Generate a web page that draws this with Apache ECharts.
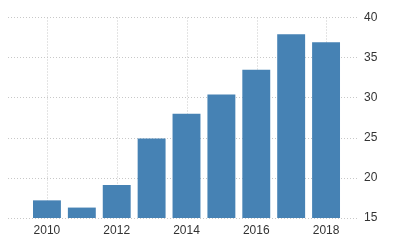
<!DOCTYPE html>
<html><head><meta charset="utf-8">
<script src="https://cdn.jsdelivr.net/npm/echarts@6/dist/echarts.min.js"></script>
<style>html,body{margin:0;padding:0;background:#fff}#c{width:400px;height:250px}</style>
</head><body><div id="c"></div>
<script>
var years = ['2010','2011','2012','2013','2014','2015','2016','2017','2018'];
var values = [17.2, 16.3, 19.1, 24.9, 28.0, 30.4, 33.5, 37.9, 36.9];
var yTicks = [15, 20, 25, 30, 35, 40];

var chart = echarts.init(document.getElementById('c'), null, {renderer:'canvas'});
var dotted = {color:'#c8c8c8', type:[1,2], width:1};
chart.setOption({
  animation:false,
  backgroundColor:'#ffffff',
  grid:[
    {left:8, right:42, top:17.5, bottom:32, containLabel:false},
    {left:29.5, width:314, top:17.5, bottom:32, containLabel:false},
    {left:47.5, width:279.2, top:17.5, bottom:32, containLabel:false}
  ],
  xAxis:[
    {gridIndex:0, type:'value', min:0, max:1, show:false, splitLine:{show:false}},
    {gridIndex:1, type:'category', data:years,
     axisLine:{show:false}, axisTick:{show:false}, splitLine:{show:false},
     axisLabel:{interval:1, color:'#333', fontSize:12, fontFamily:'Arial, Liberation Sans', margin:7}},
    {gridIndex:2, type:'value', min:2010, max:2018, interval:2,
     axisLine:{show:false}, axisTick:{show:false}, axisLabel:{show:false},
     splitLine:{show:true, lineStyle:dotted}}
  ],
  yAxis:[
    {gridIndex:0, type:'value', position:'right', min:yTicks[0], max:yTicks[yTicks.length-1], interval:5,
     axisLine:{show:false}, axisTick:{show:false},
     axisLabel:{color:'#333', fontSize:12, fontFamily:'Arial, Liberation Sans', margin:6},
     splitLine:{show:true, lineStyle:dotted}},
    {gridIndex:1, type:'value', min:yTicks[0], max:yTicks[yTicks.length-1], show:false, splitLine:{show:false}},
    {gridIndex:2, type:'value', min:0, max:1, show:false, splitLine:{show:false}}
  ],
  series:[{
    type:'bar', xAxisIndex:1, yAxisIndex:1, data:values, barCategoryGap:'20%',
    itemStyle:{color:'#4682b4'}, z:3
  }]
});
</script></body></html>
